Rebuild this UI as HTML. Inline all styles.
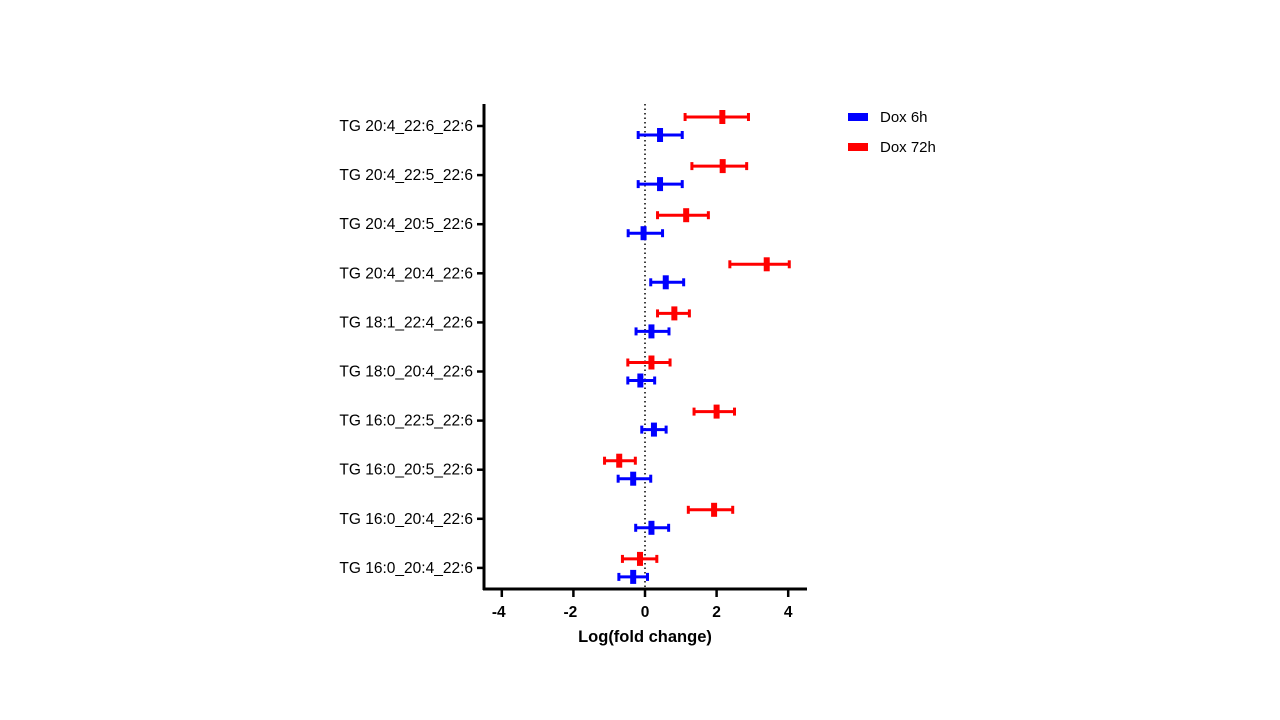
<!DOCTYPE html>
<html><head><meta charset="utf-8"><style>
body{margin:0;background:#fff;width:1280px;height:720px;overflow:hidden;}
svg{display:block;font-family:"Liberation Sans",Arial,sans-serif;}
</style></head><body>
<svg id="chart" width="1280" height="720" viewBox="0 0 1280 720"></svg>
<script>
const categories=["TG 20:4_22:6_22:6","TG 20:4_22:5_22:6","TG 20:4_20:5_22:6","TG 20:4_20:4_22:6","TG 18:1_22:4_22:6","TG 18:0_20:4_22:6","TG 16:0_22:5_22:6","TG 16:0_20:5_22:6","TG 16:0_20:4_22:6","TG 16:0_20:4_22:6"];
const redMean=[2.16,2.17,1.15,3.40,0.82,0.18,2.00,-0.72,1.93,-0.14];
const redLo=[1.12,1.31,0.35,2.37,0.35,-0.48,1.37,-1.13,1.21,-0.63];
const redHi=[2.89,2.84,1.77,4.03,1.24,0.70,2.50,-0.27,2.45,0.33];
const blueMean=[0.42,0.42,-0.04,0.58,0.18,-0.13,0.25,-0.33,0.18,-0.33];
const blueLo=[-0.19,-0.19,-0.47,0.16,-0.25,-0.48,-0.09,-0.75,-0.26,-0.73];
const blueHi=[1.04,1.04,0.49,1.08,0.67,0.27,0.59,0.16,0.66,0.07];
const xTicks=[-4,-2,0,2,4];
const NS="http://www.w3.org/2000/svg";
const svg=document.getElementById('chart');
const X=v=>645+v*35.8;
const Y=i=>126+i*49.1;
function mk(tag,attrs,parent){const e=document.createElementNS(NS,tag);for(const k in attrs)e.setAttribute(k,attrs[k]);(parent||svg).appendChild(e);return e;}
let z=mk('line',{x1:X(0),x2:X(0),y1:104,y2:589,stroke:'#000','stroke-width':1.5,'stroke-dasharray':'1.5,3'});


let ya=mk('line',{x1:484,x2:484,y1:104,y2:590,stroke:'#000','stroke-width':3});


let xa=mk('line',{x1:483,x2:807,y1:589,y2:589,stroke:'#000','stroke-width':3});


xTicks.forEach(t=>{
  let l=mk('line',{x1:X(t),x2:X(t),y1:589,y2:597,stroke:'#000','stroke-width':2.5});
  
  
  let tx=mk('text',{x:X(t)+(t<0?-3:0),y:617,'text-anchor':'middle','font-size':15.5,'font-weight':'bold'});
  tx.textContent=t;
  
  
});
let xt=mk('text',{x:645,y:642,'text-anchor':'middle','font-size':16.5,'font-weight':'bold'});
xt.textContent='Log(fold change)';


categories.forEach((c,i)=>{
  let l=mk('line',{x1:477,x2:484,y1:Y(i),y2:Y(i),stroke:'#000','stroke-width':2.5});
  
  
  let t=mk('text',{x:473,y:Y(i)+5,'text-anchor':'end','font-size':15.5});
  t.textContent=c;
  
  
});
function bar(m,lo,hi,y,col,name){
  const g=mk('g',{});
  
  
  mk('line',{x1:X(lo),x2:X(hi),y1:y,y2:y,stroke:col,'stroke-width':3},g);
  mk('line',{x1:X(lo),x2:X(lo),y1:y-4,y2:y+4,stroke:col,'stroke-width':3},g);
  mk('line',{x1:X(hi),x2:X(hi),y1:y-4,y2:y+4,stroke:col,'stroke-width':3},g);
  mk('rect',{x:X(m)-3,y:y-7,width:6,height:14,fill:col},g);
}
categories.forEach((c,i)=>{
  bar(redMean[i],redLo[i],redHi[i],Y(i)-9,'#f00','dox72h-point');
  bar(blueMean[i],blueLo[i],blueHi[i],Y(i)+9,'#00f','dox6h-point');
});
[['Dox 6h','#00f',117],['Dox 72h','#f00',147]].forEach(([n,c,y])=>{
  const g=mk('g',{});
  
  
  mk('rect',{x:848,y:y-4,width:20,height:8,fill:c},g);
  const t=mk('text',{x:880,y:y+5,'font-size':15},g);
  t.textContent=n;
});
</script>
</body></html>
